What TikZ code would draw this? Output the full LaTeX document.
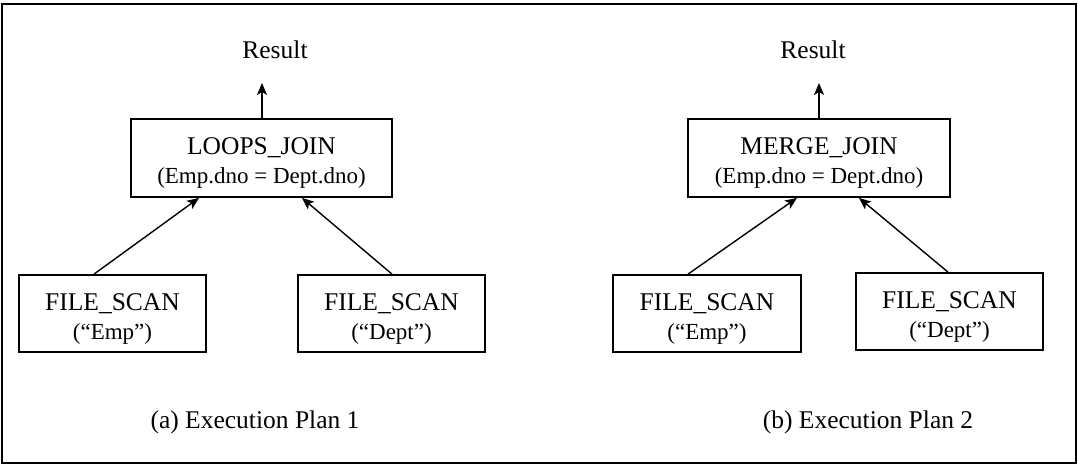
\documentclass[tikz,border=0pt]{standalone}
\usepackage{fontspec}
\setmainfont{Liberation Serif}
\usetikzlibrary{arrows.meta,calc}
\tikzset{
  opbox/.style={draw, line width=1.8pt, inner sep=0pt, align=center,
    font=\fontsize{25.5}{29}\selectfont},
  joinbox/.style={opbox, minimum width=261pt, minimum height=78pt},
  scanbox/.style={opbox, minimum width=187pt, minimum height=77pt},
  lbl/.style={inner sep=0pt, font=\fontsize{25.5}{29}\selectfont},
  flow/.style={line width=1.4pt, -{Stealth[length=12pt,width=10pt,inset=3pt]}},
}
\newcommand{\subl}[1]{{\fontsize{23}{29}\selectfont #1}}
\newcommand{\upstrut}{\rule{0pt}{27pt}}
\begin{document}
\begin{tikzpicture}[x=1pt,y=-1pt]
\useasboundingbox (0,0) rectangle (1078,466);
\draw[line width=1.8pt] (2,4) rectangle (1076,463);
% Plan 1
\node[lbl] (res1) at (275,50) {Result};
\coordinate (tip1) at (262,83);
\node[joinbox] (join1) at (261.5,158) {\upstrut LOOPS\_JOIN\\\subl{(Emp.dno = Dept.dno)}};
\node[scanbox] (fse1) at (112.5,313.5) {\upstrut FILE\_SCAN\\\subl{(“Emp”)}};
\node[scanbox] (fsd1) at (391.5,313.5) {\upstrut FILE\_SCAN\\\subl{(“Dept”)}};
\node[lbl] (cap1) at (255,422) {(a) Execution Plan 1};
\draw[flow] ([xshift=0.5pt]join1.north) -- (tip1);
\draw[flow] ([xshift=-18.5pt]fse1.north) -- ([xshift=-62.5pt]join1.south);
\draw[flow] ([xshift=0.5pt]fsd1.north) -- ([xshift=40.5pt]join1.south);
% Plan 2
\node[lbl] (res2) at (813,50) {Result};
\coordinate (tip2) at (819,83);
\node[joinbox, minimum width=262pt] (join2) at (819,158) {\upstrut MERGE\_JOIN\\\subl{(Emp.dno = Dept.dno)}};
\node[scanbox, minimum width=188pt] (fse2) at (707,313.5) {\upstrut FILE\_SCAN\\\subl{(“Emp”)}};
\node[scanbox] (fsd2) at (949.5,311.5) {\upstrut FILE\_SCAN\\\subl{(“Dept”)}};
\node[lbl] (cap2) at (868,422) {(b) Execution Plan 2};
\draw[flow] (join2.north) -- (tip2);
\draw[flow] ([xshift=-19pt]fse2.north) -- ([xshift=-22pt]join2.south);
\draw[flow] ([xshift=-1.5pt]fsd2.north) -- ([xshift=40pt]join2.south);
\end{tikzpicture}
\end{document}
